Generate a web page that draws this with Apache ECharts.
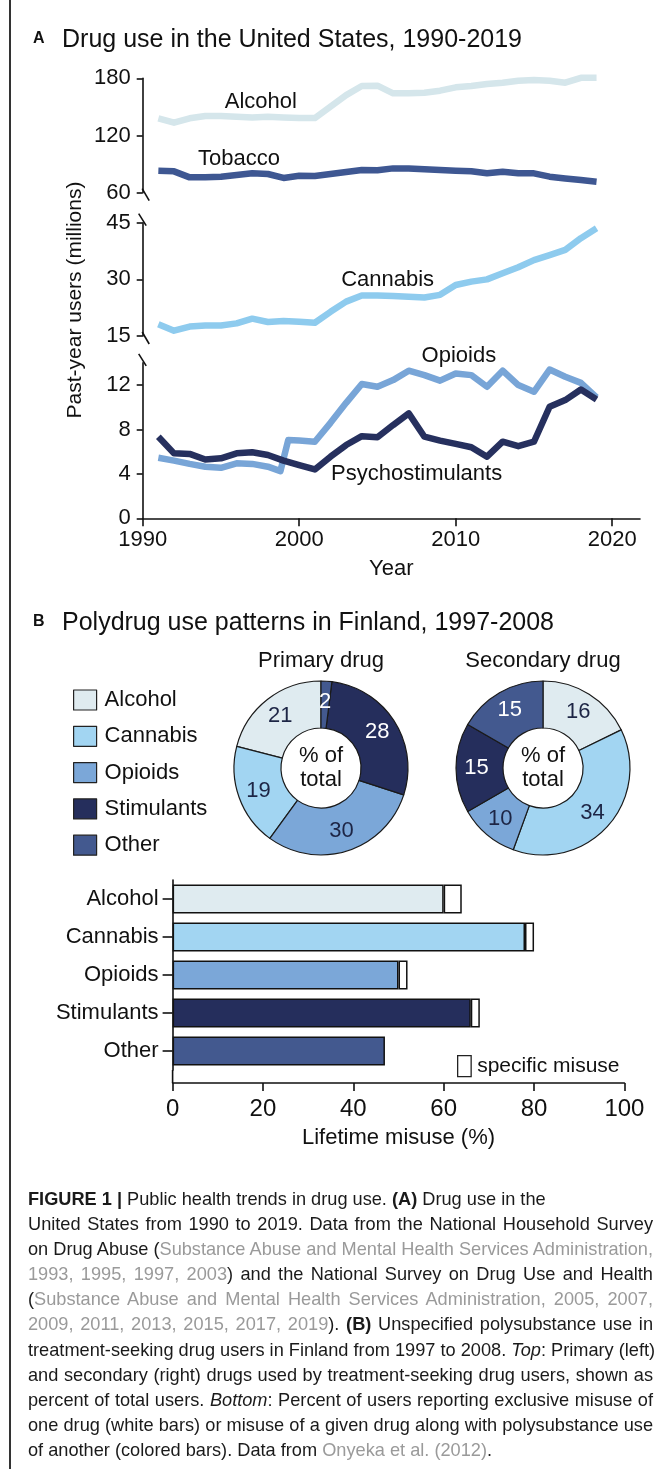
<!DOCTYPE html>
<html><head><meta charset="utf-8">
<script src="https://cdn.jsdelivr.net/npm/echarts@6/dist/echarts.min.js"></script>
<style>
html,body{margin:0;padding:0;background:#fff;}
#wrap{position:relative;width:668px;height:1469px;overflow:hidden;background:#fff;}
#chart{position:absolute;left:0;top:0;width:668px;height:1469px;}
#border{position:absolute;left:9px;top:0;width:1.5px;height:1469px;background:#333;}
#caption{position:absolute;left:28px;top:1187px;width:625px;font-family:'Liberation Sans',Arial,sans-serif;font-size:18.2px;line-height:25.1px;color:#1a1a1a;}
#caption div{white-space:nowrap;text-align:justify;text-align-last:justify;}
#caption div.l{text-align-last:left;}
#caption .g{color:#9a9a9a;}
</style></head>
<body><div id="wrap"><div id="chart"></div><div id="border"></div>
<div id="caption">
<div class="l"><b>FIGURE 1 |</b> Public health trends in drug use. <b>(A)</b> Drug use in the</div>
<div>United States from 1990 to 2019. Data from the National Household Survey</div>
<div>on Drug Abuse (<span class="g">Substance Abuse and Mental Health Services Administration,</span></div>
<div><span class="g">1993, 1995, 1997, 2003</span>) and the National Survey on Drug Use and Health</div>
<div>(<span class="g">Substance Abuse and Mental Health Services Administration, 2005, 2007,</span></div>
<div><span class="g">2009, 2011, 2013, 2015, 2017, 2019</span>). <b>(B)</b> Unspecified polysubstance use in</div>
<div>treatment-seeking drug users in Finland from 1997 to 2008. <i>Top</i>: Primary (left)</div>
<div>and secondary (right) drugs used by treatment-seeking drug users, shown as</div>
<div>percent of total users. <i>Bottom</i>: Percent of users reporting exclusive misuse of</div>
<div>one drug (white bars) or misuse of a given drug along with polysubstance use</div>
<div class="l">of another (colored bars). Data from <span class="g">Onyeka et al. (2012)</span>.</div>
</div>
</div>
<script>
// ---------------- DATA ----------------
const years = [1991,1992,1993,1994,1995,1996,1997,1998,1999,2000,2001,2002,2003,2004,2005,2006,2007,2008,2009,2010,2011,2012,2013,2014,2015,2016,2017,2018,2019];
const alcohol = [138,133.4,138,140.4,140.4,139.7,139,139.7,139,138.3,138.3,150.2,162.4,171.9,172.3,164.2,164.2,164.9,167,170.5,171.9,174,175.4,177.5,178.2,177.5,175.4,180.5,180.5];
const tobacco = [83,82.4,76.1,76.1,76.8,78.5,80.3,79.6,75.5,77.8,77.5,79.6,81.7,83.8,83.5,85.5,85.5,84.5,83.8,83,82.4,80.3,82,80.3,80.3,76.8,75,73.3,71.5];
const cannabis = [18.1,16.4,17.5,17.8,17.8,18.35,19.6,18.7,19.0,18.8,18.5,21.4,24.1,25.7,25.7,25.6,25.4,25.2,25.9,28.5,29.4,30.0,31.6,33.2,35.1,36.4,37.8,40.9,43.5];
const stimulants = [7.35,5.85,5.8,5.3,5.4,5.85,5.95,5.7,5.2,4.8,4.4,5.55,6.6,7.4,7.3,8.4,9.45,7.35,7.0,6.7,6.4,5.55,6.9,6.5,6.9,10.05,10.65,11.6,10.7];
const opioidYears = [1991,1992,1993,1994,1995,1996,1997,1998,1998.8,1999.3,2000,2001,2002,2003,2004,2005,2006,2007,2008,2009,2010,2011,2012,2013,2014,2015,2016,2017,2018,2019];
const opioids = [5.45,5.2,4.9,4.65,4.55,4.95,4.9,4.65,4.25,7.05,7.0,6.9,8.6,10.4,12.1,11.85,12.45,13.3,12.9,12.4,13.05,12.9,11.85,13.3,12.0,11.4,13.4,12.75,12.2,10.9];
const yearTicks = [1990,2000,2010,2020];
const lowTicks = [0,4,8,12];

const drugs = ['Alcohol','Cannabis','Opioids','Stimulants','Other'];
const primaryShare = [21,19,30,28,2];
const secondaryShare = [16,34,10,15,15];
const polyMisuse = [60,78,50,66,47];
const specificMisuse = [4,2,2,2,0];

// ---------------- STYLE / LAYOUT ----------------
const FONT = '"Liberation Sans", Arial, sans-serif';
const INK = '#111';
const drugColor = {Alcohol:'#dfebf0', Cannabis:'#a2d5f2', Opioids:'#7ba7d8', Stimulants:'#252e5c', Other:'#43598f'};
const lineColor = {alcohol:'#d5e6eb', tobacco:'#3e5792', cannabis:'#8ecbee', opioids:'#78a5d7', stimulants:'#26305e'};
const AX_LEFT = 142.7, X_RIGHT = 640, PX_PER_YEAR = 15.65;
const X_MAX = 1990 + (X_RIGHT - AX_LEFT) / PX_PER_YEAR;
const gTop = {top:78.3, height:114.4}, gMid = {top:222.7, height:113.3}, gBot = {top:362.9, height:155.4};
const barGrid = {left:172.6, top:880, width:451.8, height:190};
const BAR_AXIS_Y = 1083;
const pieR = [40, 87];
const pie1C = [321, 768], pie2C = [543, 768];

const pair = (xs, ys) => xs.map((x, i) => [x, ys[i]]);

function yAx(gi, min, max, interval, custom) {
  const o = {
    type:'value', gridIndex:gi, min, max, interval,
    axisLine:{show:true, lineStyle:{color:INK, width:1.6}},
    axisTick:{show:true, length:6, lineStyle:{color:INK, width:1.6}},
    axisLabel:{fontSize:22, fontFamily:FONT, color:INK, margin:12},
    splitLine:{show:false}
  };
  if (custom) { o.axisTick.customValues = custom; o.axisLabel.customValues = custom; }
  return o;
}
function hiddenX(gi) { return {type:'value', gridIndex:gi, min:1990, max:X_MAX, show:false, splitLine:{show:false}}; }
function lineSeries(name, xi, data, color) {
  return {type:'line', name, xAxisIndex:xi, yAxisIndex:xi, data, showSymbol:false, symbol:'none', clip:false,
    color, lineStyle:{color, width:6.5, join:'round', cap:'butt'}, silent:true, animation:false};
}

const option = {
  animation:false,
  backgroundColor:'#fff',
  textStyle:{fontFamily:FONT},
  grid:[
    {left:AX_LEFT, width:X_RIGHT-AX_LEFT, top:gTop.top, height:gTop.height},
    {left:AX_LEFT, width:X_RIGHT-AX_LEFT, top:gMid.top, height:gMid.height},
    {left:AX_LEFT, width:X_RIGHT-AX_LEFT, top:gBot.top, height:gBot.height},
    {left:barGrid.left, width:barGrid.width, top:barGrid.top, height:barGrid.height}
  ],
  xAxis:[
    hiddenX(0), hiddenX(1),
    {type:'value', gridIndex:2, min:1990, max:X_MAX,
     axisLine:{show:true, onZero:false, lineStyle:{color:INK, width:1.6}},
     axisTick:{show:true, length:8, customValues:yearTicks, lineStyle:{color:INK, width:1.6}},
     axisLabel:{customValues:yearTicks, formatter:v => String(v), fontSize:22, fontFamily:FONT, color:INK, margin:11},
     splitLine:{show:false},
     name:'Year', nameLocation:'middle', nameGap:40,
     nameTextStyle:{fontSize:22, fontFamily:FONT, color:INK}},
    {type:'value', gridIndex:3, min:0, max:100, interval:20, offset:BAR_AXIS_Y-(barGrid.top+barGrid.height),
     axisLine:{show:true, onZero:false, lineStyle:{color:INK, width:1.6}},
     axisTick:{show:true, length:8, lineStyle:{color:INK, width:1.6}},
     axisLabel:{fontSize:24, fontFamily:FONT, color:INK, margin:14},
     splitLine:{show:false},
     name:'Lifetime misuse (%)', nameLocation:'middle', nameGap:44,
     nameTextStyle:{fontSize:22, fontFamily:FONT, color:INK}}
  ],
  yAxis:[
    yAx(0, 60, 180, 60),
    yAx(1, 15, 45, 15),
    yAx(2, 0, 14, 4, lowTicks),
    {type:'category', gridIndex:3, data:drugs, inverse:true,
     axisLine:{show:true, lineStyle:{color:INK, width:1.6}},
     axisTick:{show:true, alignWithLabel:true, length:10, lineStyle:{color:INK, width:1.6}},
     axisLabel:{fontSize:22, fontFamily:FONT, color:INK, margin:14}}
  ],
  legend:[
    {data:drugs.map(d => ({name:d, itemStyle:{color:drugColor[d]}})), orient:'vertical', left:68, top:684,
     itemWidth:23, itemHeight:20, itemGap:14.3,
     icon:'rect', selectedMode:false,
     itemStyle:{borderColor:'#222', borderWidth:1.2},
     textStyle:{fontSize:22, fontFamily:FONT, color:INK, lineHeight:20, padding:[0,0,0,3]}},
    {data:['specific misuse'], left:452, top:1050, itemWidth:13.5, itemHeight:21, icon:'rect', selectedMode:false,
     itemStyle:{color:'#fff', borderColor:'#222', borderWidth:1.3},
     textStyle:{fontSize:21, fontFamily:FONT, color:INK, lineHeight:21, padding:[0,0,0,1]}}
  ],
  series:[
    lineSeries('US alcohol', 0, pair(years, alcohol), lineColor.alcohol),
    lineSeries('US tobacco', 0, pair(years, tobacco), lineColor.tobacco),
    lineSeries('US cannabis', 1, pair(years, cannabis), lineColor.cannabis),
    lineSeries('US opioids', 2, pair(opioidYears, opioids), lineColor.opioids),
    lineSeries('US psychostimulants', 2, pair(years, stimulants), lineColor.stimulants),
    {type:'pie', name:'Primary drug', center:pie1C, radius:pieR, startAngle:90, clockwise:false,
     silent:true, avoidLabelOverlap:false,
     itemStyle:{borderColor:'#1a1a1a', borderWidth:1.2},
     label:{show:true, position:'inside', formatter:'{c}', fontSize:22, fontFamily:FONT},
     labelLine:{show:false},
     data:drugs.map((d,i)=>({name:d, value:primaryShare[i], itemStyle:{color:drugColor[d]},
        label:{color:(d==='Stimulants'||d==='Other')?'#fff':'#1d2545'}}))},
    {type:'pie', name:'Secondary drug', center:pie2C, radius:pieR, startAngle:90, clockwise:true,
     silent:true, avoidLabelOverlap:false,
     itemStyle:{borderColor:'#1a1a1a', borderWidth:1.2},
     label:{show:true, position:'inside', formatter:'{c}', fontSize:22, fontFamily:FONT},
     labelLine:{show:false},
     data:drugs.map((d,i)=>({name:d, value:secondaryShare[i], itemStyle:{color:drugColor[d]},
        label:{color:(d==='Stimulants'||d==='Other')?'#fff':'#1d2545'}}))},
    {type:'bar', name:'polysubstance', xAxisIndex:3, yAxisIndex:3, stack:'m', barWidth:29, silent:true,
     data:drugs.map((d,i)=>({value:polyMisuse[i], itemStyle:{color:drugColor[d]}})),
     itemStyle:{borderColor:'#111', borderWidth:1.5}},
    {type:'bar', name:'specific misuse', xAxisIndex:3, yAxisIndex:3, stack:'m', barWidth:29, silent:true,
     data:specificMisuse.map(v => v > 0 ? v : '-'),
     itemStyle:{color:'#fff', borderColor:'#111', borderWidth:1.5}}
  ]
};

const chart = echarts.init(document.getElementById('chart'), null, {renderer:'canvas'});
chart.setOption(option);

// ---------------- ANNOTATIONS ----------------
const px = (g, x, y) => chart.convertToPixel({gridIndex:g}, [x, y]);
const lineLabels = [
  {text:'Alcohol', grid:0, at:[1997.55, 155.7]},
  {text:'Tobacco', grid:0, at:[1996.15, 95.4]},
  {text:'Cannabis', grid:1, at:[2005.65, 29.8]},
  {text:'Opioids', grid:2, at:[2010.2, 14.6]},
  {text:'Psychostimulants', grid:2, at:[2007.5, 4.0]}
];
const txt = (x, y, text, size, extra) => Object.assign({type:'text', x, y, silent:true,
  style:Object.assign({text, fontSize:size, fontFamily:FONT, fill:INK, align:'center', verticalAlign:'middle'}, extra||{})});
const seg = (x1,y1,x2,y2) => ({type:'line', silent:true, shape:{x1,y1,x2,y2}, style:{stroke:INK, lineWidth:1.6}});

const g = [];
g.push(txt(33, 39, 'A', 16, {align:'left', fontWeight:'bold'}));
g.push(txt(62, 40, 'Drug use in the United States, 1990-2019', 25, {align:'left'}));
g.push(txt(33, 622, 'B', 16, {align:'left', fontWeight:'bold'}));
g.push(txt(62, 623, 'Polydrug use patterns in Finland, 1997-2008', 25, {align:'left'}));
g.push(Object.assign(txt(75, 300, 'Past-year users (millions)', 21), {rotation:Math.PI/2}));
lineLabels.forEach(l => { const p = px(l.grid, l.at[0], l.at[1]); g.push(txt(p[0], p[1], l.text, 22)); });
const bTop = px(0, 1990, 60), mTop = px(1, 1990, 45), mBot = px(1, 1990, 15), lTop = px(2, 1990, 14);
[bTop, mBot].forEach(p => g.push(seg(p[0]-0.5, p[1]-4, p[0]+6.5, p[1]+8)));
[mTop, lTop].forEach(p => g.push(seg(p[0]-4, p[1]-9, p[0]+3.5, p[1]+3)));
g.push(txt(pie1C[0], 661, 'Primary drug', 22));
g.push(txt(pie2C[0], 661, 'Secondary drug', 22));
[pie1C, pie2C].forEach(c => g.push(txt(c[0], c[1], '% of\ntotal', 22, {lineHeight:24})));
g.push(seg(barGrid.left, barGrid.top + barGrid.height, barGrid.left, BAR_AXIS_Y));

chart.setOption({graphic:g});
</script>
</body></html>
